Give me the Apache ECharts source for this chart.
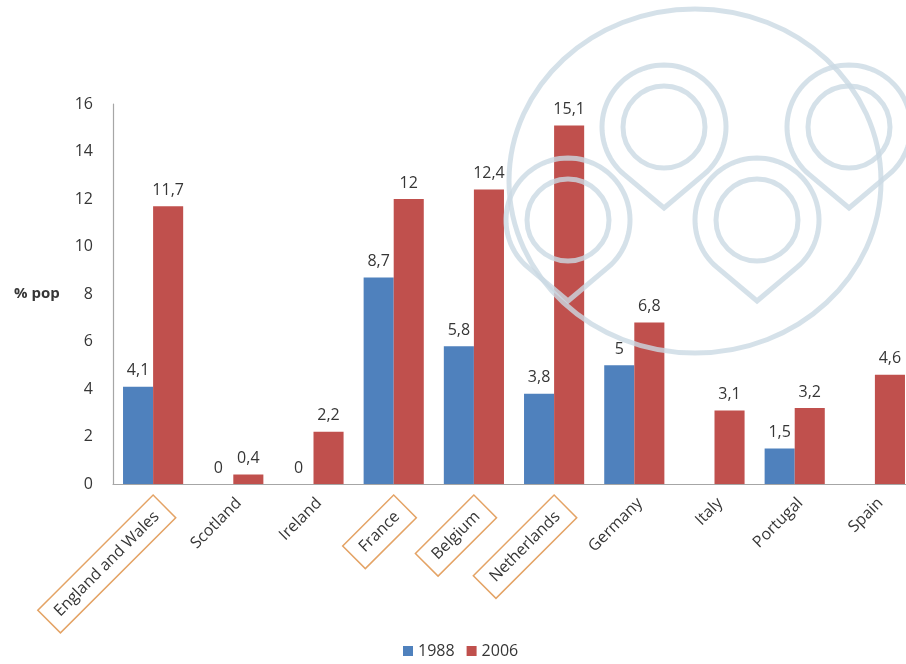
<!DOCTYPE html>
<html>
<head>
<meta charset="utf-8">
<script src="https://cdn.jsdelivr.net/npm/echarts@6/dist/echarts.min.js"></script>
<style>
  html, body { margin: 0; padding: 0; background: #ffffff; }
  #chart { width: 906px; height: 664px; }
</style>
</head>
<body>
<div id="chart"></div>
<script>
// Foreign population share by country, 1988 vs 2006
const categories = ['England and Wales', 'Scotland', 'Ireland', 'France', 'Belgium',
                    'Netherlands', 'Germany', 'Italy', 'Portugal', 'Spain'];
const values1988 = [4.1, 0, 0, 8.7, 5.8, 3.8, 5, null, 1.5, null];
const values2006 = [11.7, 0.4, 2.2, 12, 12.4, 15.1, 6.8, 3.1, 3.2, 4.6];
const highlighted = ['England and Wales', 'France', 'Belgium', 'Netherlands'];
const yTicks = [0, 2, 4, 6, 8, 10, 12, 14, 16];

const FONT = '"Open Sans", "Noto Sans", sans-serif';
const TEXT = '#363636';

// Emblem drawn faintly over the plot: one large ring and four teardrop links
const emblemRing = { cx: 695, cy: 181, rx: 186, ry: 172 };
const emblemLinks = [
  { cx: 568, cy: 220, R: 62, r: 41, tip: 81 },
  { cx: 664, cy: 127, R: 62, r: 41, tip: 81 },
  { cx: 757, cy: 220, R: 62, r: 41, tip: 81 },
  { cx: 849, cy: 127, R: 62, r: 41, tip: 81 }
];

// Outline of a circle pulled down to a point: tangent lines meet at the tip
function teardropPoints(l) {
  const th = Math.acos(l.R / l.tip);
  const pts = [[l.cx, l.cy + l.tip]];
  const steps = 72;
  const start = Math.PI / 2 - th;
  const end = Math.PI / 2 + th - 2 * Math.PI;
  for (let i = 0; i <= steps; i++) {
    const a = start + (end - start) * i / steps;
    pts.push([l.cx + l.R * Math.cos(a), l.cy + l.R * Math.sin(a)]);
  }
  return pts;
}

const emblemStyle = { fill: 'none', stroke: '#cbdae3', lineWidth: 5, opacity: 0.8 };
const emblem = [{
  type: 'ellipse', z: 100, silent: true, style: Object.assign({}, emblemStyle),
  shape: emblemRing
}];
emblemLinks.forEach(l => {
  emblem.push({ type: 'polygon', z: 100, silent: true,
    style: Object.assign({}, emblemStyle),
    shape: { points: teardropPoints(l) } });
  emblem.push({ type: 'circle', z: 100, silent: true,
    style: Object.assign({}, emblemStyle),
    shape: { cx: l.cx, cy: l.cy, r: l.r } });
});

const fmt = v => String(v).replace('.', ',');

const chart = echarts.init(document.getElementById('chart'), null, { renderer: 'canvas' });
chart.setOption({
  animation: false,
  backgroundColor: '#ffffff',
  textStyle: { fontFamily: FONT },
  grid: { left: 113, top: 104, width: 802, bottom: 180,
          containLabel: false, outerBoundsMode: 'none' },
  legend: {
    bottom: 0, left: 398,
    icon: 'rect', itemWidth: 10, itemHeight: 10, itemGap: 12, itemTextGap: 4,
    textStyle: { fontFamily: FONT, fontSize: 16, color: TEXT },
    data: ['1988', '2006']
  },
  xAxis: {
    type: 'category',
    data: categories,
    axisLine: { lineStyle: { color: '#a6a6a6', width: 1.2 } },
    axisTick: { show: false },
    axisLabel: {
      interval: 0, rotate: 45, margin: 11, verticalAlign: 'top',
      fontFamily: FONT, fontSize: 16, color: TEXT,
      formatter: v => highlighted.includes(v) ? '{box|' + v + '}' : v,
      rich: {
        box: {
          fontFamily: FONT, fontSize: 16, color: TEXT,
          borderColor: '#e4a365', borderWidth: 1.5,
          padding: [8, 11, 8, 11]
        }
      }
    }
  },
  yAxis: {
    type: 'value',
    min: yTicks[0], max: yTicks[yTicks.length - 1], interval: 2,
    axisLine: { show: true, lineStyle: { color: '#a6a6a6', width: 1.2 } },
    axisTick: { show: false },
    splitLine: { show: false },
    axisLabel: { margin: 20, fontFamily: FONT, fontSize: 16, color: TEXT }
  },
  series: [
    {
      name: '1988', type: 'bar', data: values1988,
      barGap: '0%', barCategoryGap: '25%',
      itemStyle: { color: '#4f81bd' },
      label: { show: true, position: 'top', distance: 8,
               fontFamily: FONT, fontSize: 16, color: TEXT,
               formatter: p => fmt(p.value) }
    },
    {
      name: '2006', type: 'bar', data: values2006,
      barGap: '0%', barCategoryGap: '25%',
      itemStyle: { color: '#c0504d' },
      label: { show: true, position: 'top', distance: 8,
               fontFamily: FONT, fontSize: 16, color: TEXT,
               formatter: p => fmt(p.value) }
    }
  ],
  graphic: [
    { type: 'text', left: 14, top: 286, silent: true,
      style: { text: '% pop', fontFamily: FONT, fontSize: 15, fontWeight: 'bold', fill: TEXT } }
  ].concat(emblem)
});
</script>
</body>
</html>
